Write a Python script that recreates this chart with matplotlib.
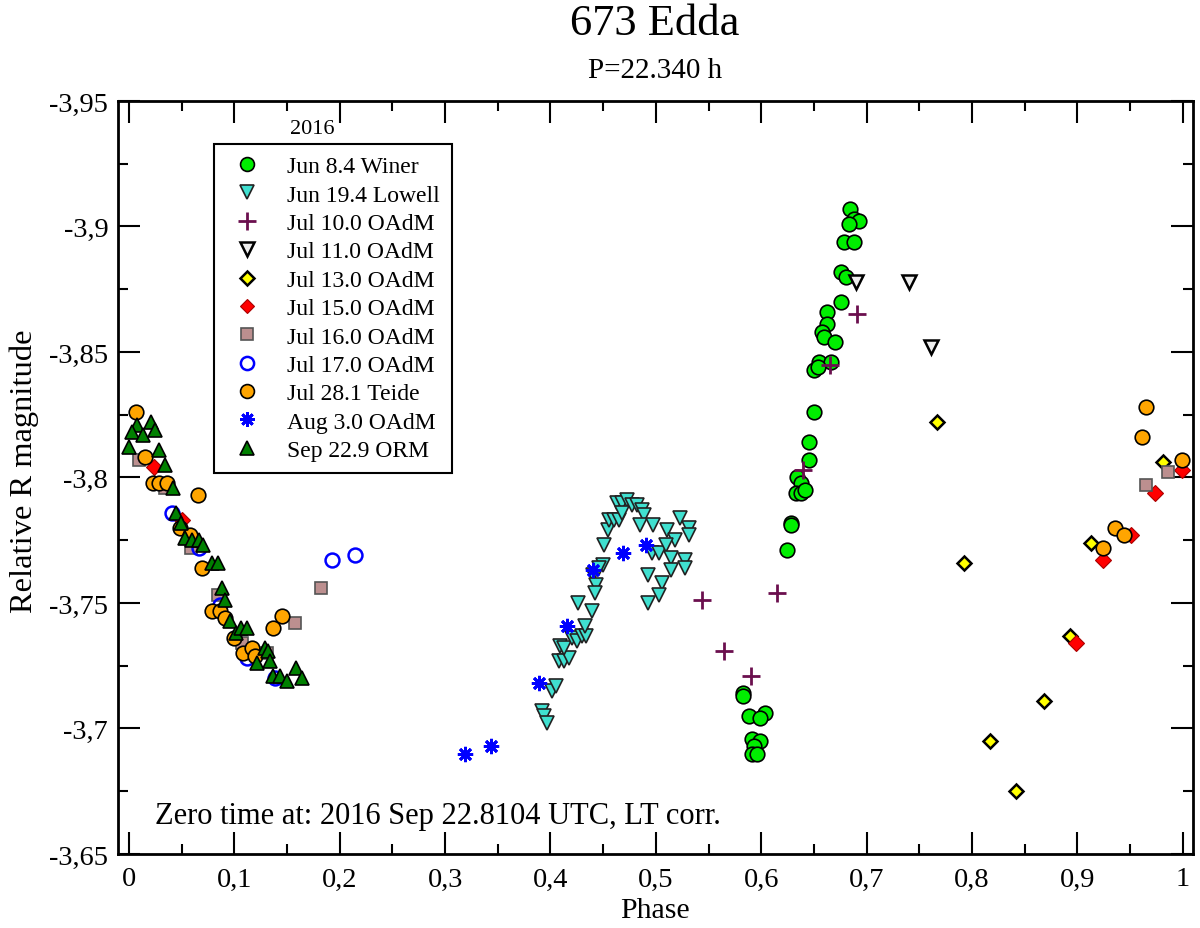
import numpy as np
import matplotlib
matplotlib.use('Agg')
import matplotlib.pyplot as plt
from matplotlib.ticker import MultipleLocator, FuncFormatter

plt.rcParams['font.family'] = ['Liberation Serif', 'DejaVu Serif']

# --- data (phase, relative R magnitude) ---
winer_ph = [0.684,0.688,0.6926,0.683,0.679,0.688,0.676,0.680,0.676,0.6625,0.6625,0.658,0.6594,0.6705,
            0.6546,0.6664,0.650,0.6537,0.650,0.6458,0.6458,0.634,0.638,0.6334,0.638,0.642,0.6284,0.6284,
            0.6246,0.583,0.583,0.588,0.604,0.599,0.591,0.599,0.593,0.591,0.596]
winer_mag = [-3.907,-3.903,-3.902,-3.901,-3.894,-3.894,-3.882,-3.880,-3.870,-3.866,-3.861,-3.858,-3.856,-3.854,
             -3.846,-3.846,-3.843,-3.844,-3.826,-3.814,-3.807,-3.800,-3.798,-3.794,-3.794,-3.795,-3.782,-3.781,
             -3.771,-3.714,-3.713,-3.705,-3.706,-3.704,-3.696,-3.695,-3.693,-3.690,-3.690]

lowell_ph = [0.392,0.3935,0.397,0.4014,0.4055,0.4077,0.4125,0.418,0.4087,0.413,0.420,0.425,0.430,0.434,
             0.433,0.426,0.439,0.440,0.4435,0.4425,0.450,0.4457,0.451,0.4546,0.456,0.460,0.4647,0.463,0.468,
             0.4727,0.468,0.477,0.482,0.487,0.489,0.485,0.497,0.5106,0.5185,0.523,0.531,0.531,0.496,0.5027,
             0.510,0.514,0.528,0.5275,0.514,0.493,0.506,0.503,0.493]
lowell_mag = [-3.707,-3.705,-3.702,-3.715,-3.717,-3.727,-3.727,-3.728,-3.733,-3.732,-3.736,-3.735,-3.737,-3.737,
              -3.741,-3.750,-3.747,-3.761,-3.757,-3.754,-3.765,-3.764,-3.773,-3.779,-3.783,-3.783,-3.783,-3.790,
              -3.790,-3.791,-3.786,-3.789,-3.789,-3.787,-3.785,-3.781,-3.781,-3.779,-3.775,-3.784,-3.780,-3.777,
              -3.770,-3.770,-3.773,-3.768,-3.767,-3.764,-3.763,-3.761,-3.758,-3.753,-3.750]

jul10_ph = [0.544,0.565,0.590,0.615,0.640,0.6657,0.691]
jul10_mag = [-3.751,-3.731,-3.721,-3.754,-3.803,-3.845,-3.865]

jul11_ph = [0.690,0.740,0.7607]
jul11_mag = [-3.878,-3.878,-3.852]

jul13_ph = [0.767,0.792,0.817,0.8414,0.868,0.893,0.913,0.981]
jul13_mag = [-3.822,-3.766,-3.695,-3.675,-3.711,-3.737,-3.774,-3.806]

jul15_ph = [0.024,0.05,0.899,0.924,0.951,0.974,0.999]
jul15_mag = [-3.804,-3.783,-3.734,-3.767,-3.777,-3.794,-3.803]

jul16_ph = [0.0098,0.034,0.0589,0.0848,0.107,0.131,0.158,0.182,0.965,0.986]
jul16_mag = [-3.807,-3.796,-3.772,-3.753,-3.734,-3.730,-3.742,-3.756,-3.797,-3.802]

jul17_ph = [0.0405,0.066,0.0864,0.112,0.139,0.193,0.2146]
jul17_mag = [-3.786,-3.772,-3.749,-3.728,-3.720,-3.767,-3.769]

teide_ph = [0.0066,0.0152,0.023,0.028,0.036,0.065,0.048,0.058,0.069,0.0785,0.0864,0.091,0.0997,0.1086,
            0.1165,0.12,0.137,0.1456,0.924,0.936,0.944,0.961,0.965,0.999]
teide_mag = [-3.826,-3.808,-3.798,-3.798,-3.798,-3.793,-3.780,-3.777,-3.764,-3.747,-3.747,-3.744,-3.736,-3.730,
             -3.732,-3.729,-3.740,-3.745,-3.772,-3.780,-3.777,-3.816,-3.828,-3.807]

aug3_ph = [0.3185,0.3438,0.389,0.4157,0.440,0.469,0.491]
aug3_mag = [-3.690,-3.693,-3.718,-3.741,-3.763,-3.770,-3.773]

orm_ph = [0.008,0.0206,0.0025,0.0136,0.0247,0.0,0.0288,0.034,0.0415,0.045,0.049,0.053,0.0595,0.066,0.0706,
          0.0785,0.084,0.088,0.091,0.096,0.1016,0.106,0.112,0.129,0.132,0.121,0.134,0.137,0.143,0.150,0.1586,0.164]
orm_mag = [-3.821,-3.822,-3.818,-3.817,-3.819,-3.812,-3.811,-3.805,-3.796,-3.786,-3.782,-3.776,-3.775,-3.775,
           -3.773,-3.766,-3.766,-3.756,-3.751,-3.743,-3.738,-3.740,-3.740,-3.732,-3.731,-3.726,-3.727,-3.721,
           -3.721,-3.719,-3.724,-3.720]

labels = ['Jun 8.4 Winer','Jun 19.4 Lowell','Jul 10.0 OAdM','Jul 11.0 OAdM','Jul 13.0 OAdM',
          'Jul 15.0 OAdM','Jul 16.0 OAdM','Jul 17.0 OAdM','Jul 28.1 Teide','Aug 3.0 OAdM','Sep 22.9 ORM']

fig = plt.figure(figsize=(12, 9.29), dpi=100)
ax = fig.add_axes([0.0983, 0.0797, 0.8956, 0.8105])

ew = 1.2
ax.plot(winer_ph, winer_mag, 'o', ms=10.5, mfc='#00ee00', mec='k', mew=ew, ls='none', label=labels[0])
ax.plot(lowell_ph, lowell_mag, 'v', ms=10.5, mfc='#40e0d0', mec='#222222', mew=ew, ls='none', label=labels[1])
ax.plot(jul10_ph, jul10_mag, '+', ms=13, mec='#6b0f4e', mew=2, ls='none', label=labels[2])
ax.plot(jul11_ph, jul11_mag, 'v', ms=10.5, mfc='#eeeeee', mec='k', mew=1.8, ls='none', label=labels[3])
ax.plot(jul13_ph, jul13_mag, 'D', ms=7.5, mfc='#ffff00', mec='k', mew=1.8, ls='none', label=labels[4])
ax.plot(jul15_ph, jul15_mag, 'D', ms=8, mfc='#ff0000', mec='#aa0000', mew=0.8, ls='none', label=labels[5])
ax.plot(jul16_ph, jul16_mag, 's', ms=8.5, mfc='#bc8f8f', mec='#555555', mew=ew, ls='none', label=labels[6])
ax.plot(jul17_ph, jul17_mag, 'o', ms=10, mfc='none', mec='#0000ff', mew=1.8, ls='none', label=labels[7])
ax.plot(teide_ph, teide_mag, 'o', ms=10.5, mfc='#ffa500', mec='k', mew=ew, ls='none', label=labels[8])
ax.plot(aug3_ph, aug3_mag, marker=(8, 2, 0), ms=11, mec='#0000ff', mew=2, ls='none', label=labels[9])
ax.plot(orm_ph, orm_mag, '^', ms=10.5, mfc='#008000', mec='k', mew=ew, ls='none', label=labels[10])

ax.set_xlim(-0.0105, 1.0095)
ax.set_ylim(-3.65, -3.95)

fmt = FuncFormatter(lambda v, p: ('%g' % round(v, 4)).replace('.', ','))
ax.xaxis.set_major_locator(MultipleLocator(0.1))
ax.xaxis.set_minor_locator(MultipleLocator(0.05))
ax.yaxis.set_major_locator(MultipleLocator(0.05))
ax.yaxis.set_minor_locator(MultipleLocator(0.025))
ax.xaxis.set_major_formatter(fmt)
ax.yaxis.set_major_formatter(fmt)
ax.tick_params(which='both', direction='in', top=True, right=True, width=1.5, labelsize=20.5)
ax.tick_params(which='major', length=15.5)
ax.tick_params(which='minor', length=7.5)
ax.tick_params(axis='x', pad=9)
ax.tick_params(axis='y', pad=7)
for s in ax.spines.values():
    s.set_linewidth(2)

leg = ax.legend(loc='upper left', bbox_to_anchor=(214/1200, 1-145/929), bbox_transform=fig.transFigure,
                borderaxespad=0, fancybox=False, framealpha=1, edgecolor='k', fontsize=17,
                handlelength=1.8, handletextpad=0.8, borderpad=0.5, labelspacing=0.29, numpoints=1,
                markerscale=0.95)
leg.get_frame().set_linewidth(1.5)

fig.text(312/1200, 1-130/929, '2016', ha='center', va='center', fontsize=16)
fig.text(0.5458, 1-24/929, '673 Edda', ha='center', va='center', fontsize=32)
fig.text(0.5458, 1-71/929, 'P=22.340 h', ha='center', va='center', fontsize=21)
fig.text(155/1200, 1-817/929, 'Zero time at: 2016 Sep 22.8104 UTC, LT corr.', ha='left', va='center', fontsize=22)
fig.text(0.5458, 1-911/929, 'Phase', ha='center', va='center', fontsize=21.5)
fig.text(24/1200, 1-471/929, 'Relative R magnitude', ha='center', va='center', rotation=90, fontsize=23.4)

fig.savefig('out.png', dpi=100)
